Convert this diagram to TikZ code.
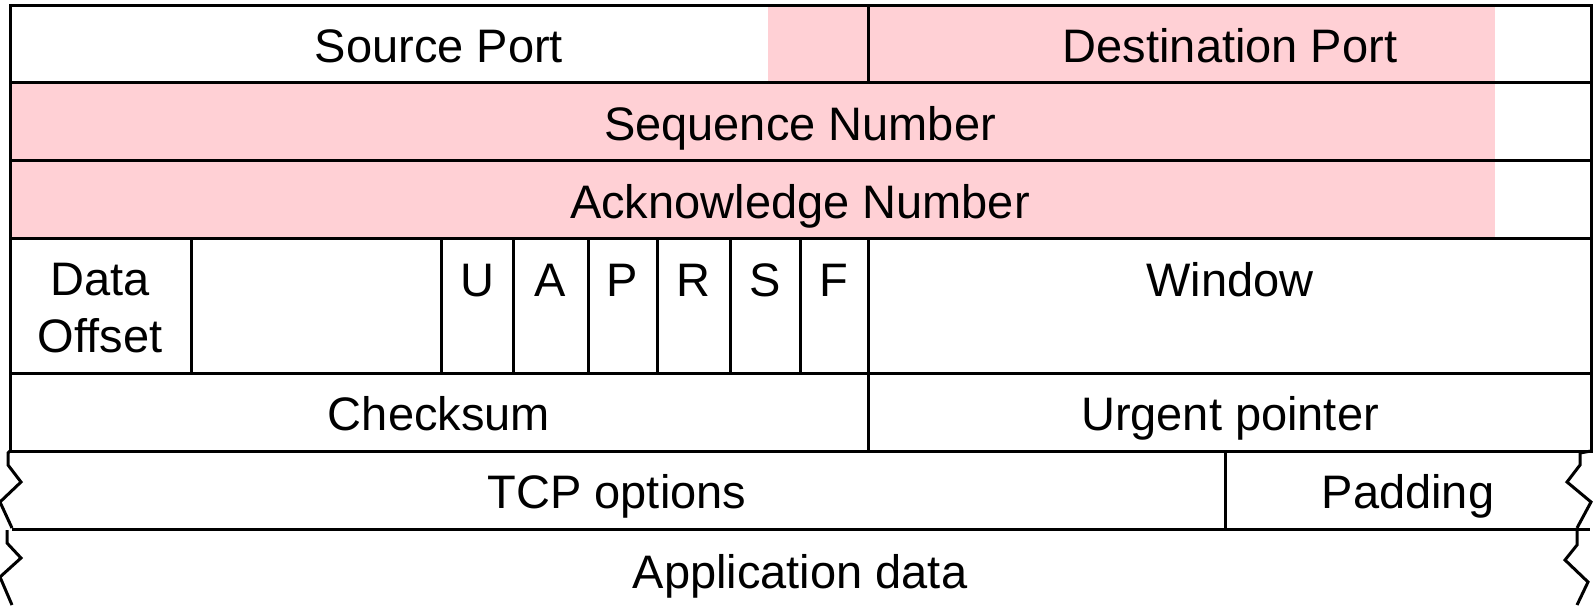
\documentclass[tikz,border=0pt]{standalone}
\usepackage{fontspec}
\setmainfont{Liberation Sans}
\usepackage{xcolor}
\usepackage{tikz}
\definecolor{segpink}{RGB}{255,208,213}

\begin{document}
\begin{tikzpicture}[x=0.5pt,y=-0.5pt,
  field/.style={font=\fontsize{23.5}{28.5}\selectfont,anchor=base,inner sep=0pt,align=center},
  rule/.style={line width=1.5pt},
  edge/.style={line width=1.5pt,line join=miter}
]

\useasboundingbox (0,0) rectangle (1595,605);

% Highlighted fields
\fill[segpink] (768,5) rectangle (1495,82);
\fill[segpink] (10,82) rectangle (1495,238);

% Fixed header grid
\draw[rule] (10,5) rectangle (1591,451);
\foreach \y in {82,160,238,373}
  \draw[rule] (10,\y) -- (1591,\y);
\draw[rule] (868,5) -- (868,82);
\draw[rule] (868,238) -- (868,451);
\foreach \x in {191,441,513,588,657,730,800}
  \draw[rule] (\x,238) -- (\x,373);

% Options row
\draw[rule] (12,529) -- (1590,529);
\draw[rule] (1225,451) -- (1225,529);
\draw[edge] (10,451) -- (8,453) -- (8,465) -- (21,482) -- (0,502) -- (12,528);
\draw[edge] (1591,451) -- (1580,453) -- (1580,465) -- (1567,482) -- (1591,502) -- (1577,528);

% Data row
\draw[edge] (7,530) -- (7,543) -- (21,558) -- (0,577) -- (12,605);
\draw[edge] (1577,530) -- (1577,545) -- (1565,560) -- (1588,582) -- (1577,605);

% Labels
\node[field] (srcport) at (439,62) {Source Port};
\node[field] (dstport) at (1230,62) {Destination Port};
\node[field] (seqnum) at (800,140) {Sequence Number};
\node[field] (acknum) at (800,218) {Acknowledge Number};
\node[field] (offset) at (100,352) {Data\\Offset};
\foreach \f/\x in {U/477,A/550,P/622,R/693,S/765,F/834}
  \node[field] (flag\f) at (\x,296) {\f};
\node[field] (window) at (1230,296) {Window};
\node[field] (checksum) at (439,430) {Checksum};
\node[field] (urgent) at (1230,430) {Urgent pointer};
\node[field] (options) at (617,508) {TCP options};
\node[field] (padding) at (1408,508) {Padding};
\node[field] (appdata) at (800,588) {Application data};

\end{tikzpicture}
\end{document}
